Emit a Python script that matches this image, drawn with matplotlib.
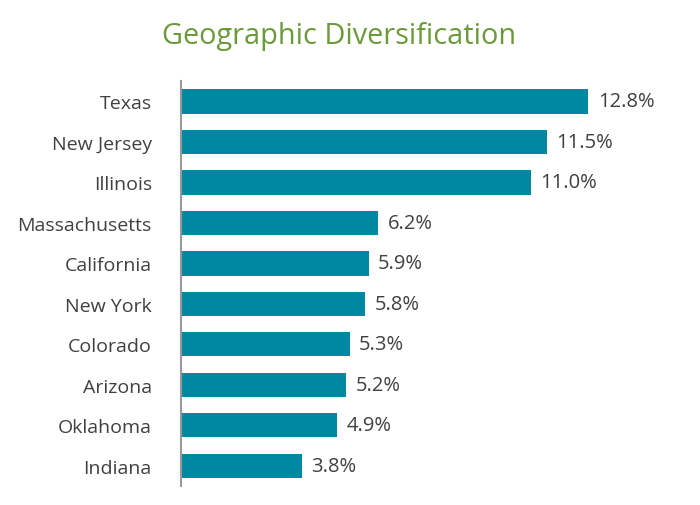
import matplotlib.pyplot as plt

states = ['Texas', 'New Jersey', 'Illinois', 'Massachusetts', 'California',
          'New York', 'Colorado', 'Arizona', 'Oklahoma', 'Indiana']
values = [12.8, 11.5, 11.0, 6.2, 5.9, 5.8, 5.3, 5.2, 4.9, 3.8]

plt.rcParams['font.family'] = ['Open Sans', 'DejaVu Sans']

fig = plt.figure(figsize=(7, 5.06), dpi=100)
ax = fig.add_axes([0.2586, 0.0375, 0.727, 0.8])

pos = list(range(len(states)))
ax.barh(pos, values, height=0.6, color='#0088a3')
for p, v in zip(pos, values):
    ax.text(v + 0.3, p, '%.1f%%' % v, va='center', ha='left',
            fontsize=14.5, color='#404040')

ax.set_yticks(pos)
ax.set_yticklabels(states, fontsize=14, color='#404040')
ax.set_ylim(9.5, -0.5)
ax.set_xlim(0, 16)
ax.set_xticks([])
ax.tick_params(axis='y', length=0, pad=21)
for s in ['top', 'right', 'bottom']:
    ax.spines[s].set_visible(False)
ax.spines['left'].set_color('#999999')
ax.spines['left'].set_linewidth(1.5)

fig.text(0.484, 0.928, 'Geographic Diversification', ha='center', va='center',
         fontsize=20.8, color='#6a9a3a')

fig.savefig('out.png', dpi=100)
